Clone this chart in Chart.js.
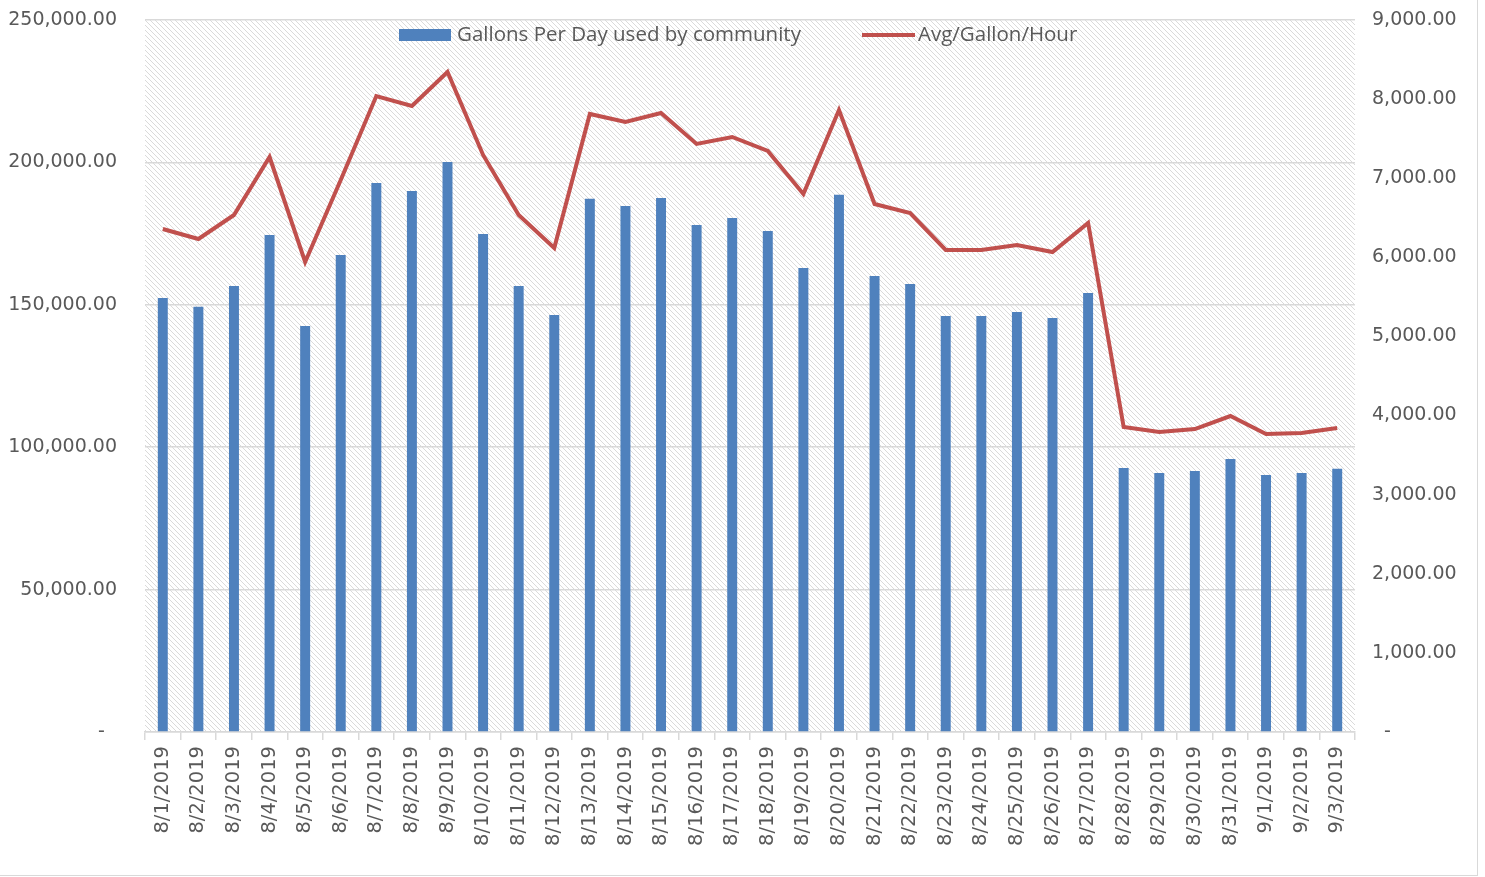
<!DOCTYPE html>
<html>
<head>
<meta charset="utf-8">
<script src="https://cdn.jsdelivr.net/npm/chart.js@4.4.1/dist/chart.umd.min.js"></script>
<style>
    html, body { margin: 0; padding: 0; background: #fff; }
    #wrap {
        width: 1477px;
        height: 875px;
        border-right: 1px solid #d9d9d9;
        border-bottom: 1px solid #d9d9d9;
    }
</style>
</head>
<body>
<div id="wrap"><canvas id="chart"></canvas></div>
<script>
const dates = [
    '8/1/2019', '8/2/2019', '8/3/2019', '8/4/2019', '8/5/2019', '8/6/2019', '8/7/2019',
    '8/8/2019', '8/9/2019', '8/10/2019', '8/11/2019', '8/12/2019', '8/13/2019', '8/14/2019',
    '8/15/2019', '8/16/2019', '8/17/2019', '8/18/2019', '8/19/2019', '8/20/2019', '8/21/2019',
    '8/22/2019', '8/23/2019', '8/24/2019', '8/25/2019', '8/26/2019', '8/27/2019', '8/28/2019',
    '8/29/2019', '8/30/2019', '8/31/2019', '9/1/2019', '9/2/2019', '9/3/2019'
];

const gallonsPerDay = [
    152400, 149300, 156600, 174500, 142600, 167500, 192800,
    190000, 200100, 174900, 156600, 146400, 187200, 184700,
    187500, 178000, 180500, 175900, 162900, 188600, 160100,
    157300, 146100, 146100, 147500, 145400, 154100, 92700,
    90900, 91600, 95900, 90200, 90900, 92400
];

const avgGallonPerHour = [
    6358, 6232, 6535, 7268, 5941, 6978, 8039,
    7913, 8343, 7294, 6535, 6118, 7812, 7711,
    7824, 7433, 7521, 7344, 6801, 7862, 6674,
    6560, 6093, 6093, 6156, 6067, 6434, 3855,
    3792, 3830, 3994, 3767, 3779, 3843
];

const leftTicks = [0, 50000, 100000, 150000, 200000, 250000];
const rightTicks = [0, 1000, 2000, 3000, 4000, 5000, 6000, 7000, 8000, 9000];

const TEXT = '#595959';
const GRID = '#d9d9d9';
const FONT = 'DejaVu Sans';

function fmt(v) {
    return v.toLocaleString('en-US', { minimumFractionDigits: 2, maximumFractionDigits: 2 });
}

// diagonal hatch behind the plot
function makeHatch() {
    const s = 5;
    const c = document.createElement('canvas');
    c.width = s; c.height = s;
    const g = c.getContext('2d');
    g.strokeStyle = '#dadada';
    g.lineWidth = 1;
    g.beginPath();
    g.moveTo(-1, -1); g.lineTo(s + 1, s + 1);
    g.moveTo(-1, s - 1); g.lineTo(1, s + 1);
    g.moveTo(s - 1, -1); g.lineTo(s + 1, 1);
    g.stroke();
    return c;
}

const hatchPlugin = {
    id: 'hatch',
    beforeDraw(chart) {
        const { ctx, chartArea: a } = chart;
        ctx.save();
        ctx.fillStyle = ctx.createPattern(makeHatch(), 'repeat');
        ctx.fillRect(a.left, a.top, a.right - a.left, a.bottom - a.top);
        ctx.restore();
    }
};

// Excel-style legend sitting inside the plot area
const legendPlugin = {
    id: 'insideLegend',
    afterDatasetsDraw(chart) {
        const ctx = chart.ctx;
        const bars = chart.data.datasets.find(d => d.type === 'bar');
        const line = chart.data.datasets.find(d => d.type === 'line');
        const y = 35;
        ctx.save();
        ctx.font = '20.5px "Open Sans"';
        ctx.textBaseline = 'middle';
        ctx.textAlign = 'left';

        ctx.fillStyle = bars.backgroundColor;
        ctx.fillRect(399, y - 6, 52, 12);
        ctx.fillStyle = TEXT;
        ctx.fillText(bars.label, 457, y);

        ctx.strokeStyle = line.borderColor;
        ctx.lineWidth = 4;
        ctx.beginPath();
        ctx.moveTo(862, y); ctx.lineTo(915, y);
        ctx.stroke();
        ctx.fillText(line.label, 918, y);
        ctx.restore();
    }
};

function fitY(width) {
    return s => {
        s.width = width;
        s.paddingTop = 0;
        s.paddingBottom = 0;
    };
}

const ctx = document.getElementById('chart').getContext('2d');
const chart = new Chart(ctx, {
    type: 'bar',
    data: {
        labels: dates,
        datasets: [
            {
                type: 'line',
                label: 'Avg/Gallon/Hour',
                data: avgGallonPerHour,
                yAxisID: 'y1',
                borderColor: '#c0504d',
                backgroundColor: '#c0504d',
                borderWidth: 4,
                pointRadius: 0,
                tension: 0,
                order: 1
            },
            {
                type: 'bar',
                label: 'Gallons Per Day used by community',
                data: gallonsPerDay,
                yAxisID: 'y',
                backgroundColor: '#4f81bd',
                borderWidth: 0,
                barPercentage: 0.28,
                categoryPercentage: 1,
                order: 2
            }
        ]
    },
    options: {
        responsive: true,
        maintainAspectRatio: false,
        animation: false,
        layout: { padding: { top: 20, left: 0, right: 0, bottom: 0 } },
        plugins: {
            legend: { display: false },
            tooltip: { enabled: false }
        },
        scales: {
            x: {
                offset: true,
                afterFit: s => { s.height = 143; s.paddingTop = 0; },
                grid: { offset: true, drawOnChartArea: false, drawTicks: true, tickLength: 8, color: GRID, lineWidth: 1.5 },
                border: { color: GRID, width: 1.5 },
                ticks: {
                    color: TEXT,
                    font: { family: FONT, size: 19.5 },
                    maxRotation: 90,
                    minRotation: 90,
                    autoSkip: false,
                    padding: 6
                }
            },
            y: {
                position: 'left',
                min: 0,
                max: 250000,
                afterFit: fitY(145),
                afterBuildTicks: s => { s.ticks = leftTicks.map(v => ({ value: v })); },
                grid: { color: GRID, lineWidth: 1.5, drawTicks: false },
                border: { display: false },
                ticks: {
                    color: TEXT,
                    font: { family: FONT, size: 19 },
                    padding: 28,
                    callback: v => v === 0 ? '-  ' : fmt(v)
                }
            },
            y1: {
                position: 'right',
                min: 0,
                max: 9000,
                afterFit: fitY(122),
                afterBuildTicks: s => { s.ticks = rightTicks.map(v => ({ value: v })); },
                grid: { display: false, drawTicks: false },
                border: { display: false },
                ticks: {
                    color: TEXT,
                    font: { family: FONT, size: 19 },
                    padding: 17,
                    callback: v => v === 0 ? '  -' : fmt(v)
                }
            }
        }
    },
    plugins: [hatchPlugin, legendPlugin]
});
</script>
</body>
</html>
